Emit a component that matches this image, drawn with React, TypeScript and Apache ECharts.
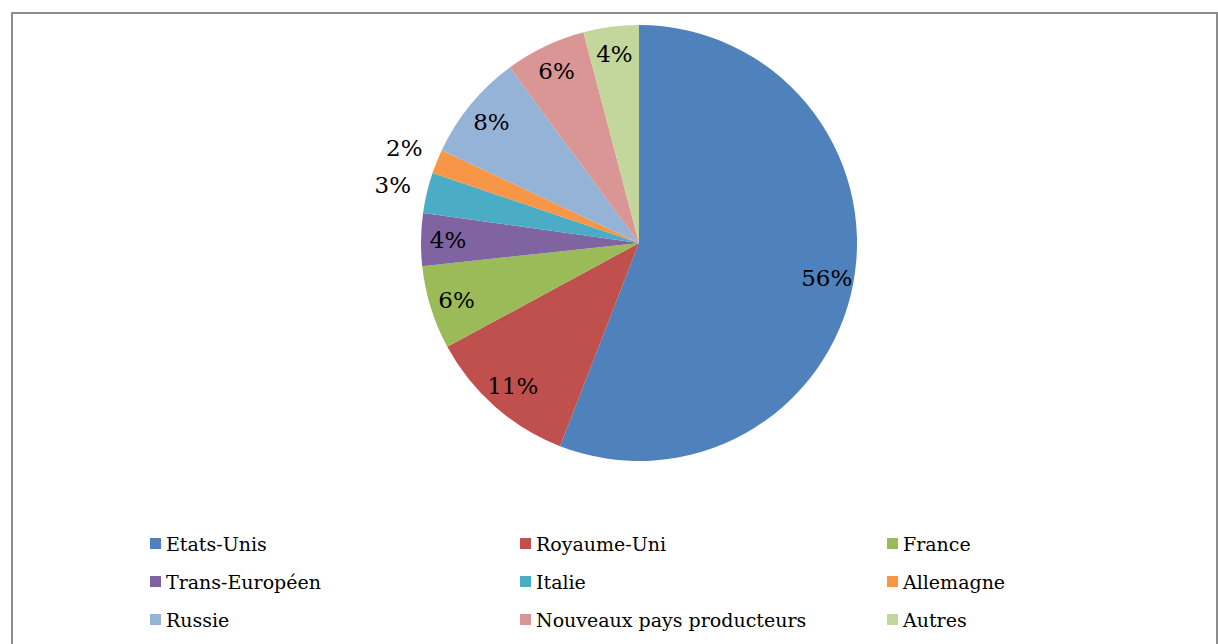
import React, { useEffect, useRef } from "react";
import * as echarts from "echarts";

const categories = [
  "Etats-Unis",
  "Royaume-Uni",
  "France",
  "Trans-Européen",
  "Italie",
  "Allemagne",
  "Russie",
  "Nouveaux pays producteurs",
  "Autres",
];
const shares = [55.9, 11.2, 6.2, 3.9, 3.0, 1.8, 7.9, 6.0, 4.1];
const colors = [
  "#4F81BD",
  "#C0504D",
  "#9BBB59",
  "#8064A2",
  "#4BACC6",
  "#F79646",
  "#95B3D7",
  "#D99694",
  "#C3D69B",
];
const outsideLabels = ["Italie", "Allemagne"];
const legendCol1 = ["Etats-Unis", "Trans-Européen", "Russie"];
const legendCol2 = ["Royaume-Uni", "Italie", "Nouveaux pays producteurs"];
const legendCol3 = ["France", "Allemagne", "Autres"];

const FONT = "DejaVu Serif";

export default function App() {
  const ref = useRef<HTMLDivElement>(null);
  useEffect(() => {
    if (!ref.current) return;
    const chart = echarts.init(ref.current, null, { renderer: "svg" });
    const center = [639, 243];
    const R = 218;
    const mainData = categories.map((name, i) => ({
      name,
      value: shares[i],
      itemStyle: { color: colors[i] },
    }));
    const labelData = (inside: boolean) =>
      categories.map((name, i) => {
        const isOut = outsideLabels.includes(name);
        return {
          name,
          value: shares[i],
          itemStyle: { color: "rgba(0,0,0,0)" },
          label: { show: inside ? !isOut : isOut },
        };
      });
    const labelSeriesBase = {
      type: "pie" as const,
      center,
      startAngle: 90,
      clockwise: true,
      silent: true,
      avoidLabelOverlap: false,
      labelLine: { show: false },
      emphasis: { disabled: true },
      label: {
        position: "inside",
        color: "#000",
        fontFamily: FONT,
        fontSize: 23,
        formatter: (p: any) => Math.round(p.value) + "%",
      },
    };
    const legendBase = {
      orient: "vertical" as const,
      top: 533,
      padding: 0,
      icon: "rect",
      itemWidth: 11,
      itemHeight: 11,
      itemGap: 17,
      selectedMode: false,
      textStyle: { fontFamily: FONT, fontSize: 19, color: "#000", lineHeight: 21 },
    };
    chart.setOption({
      animation: false,
      backgroundColor: "#fff",
      legend: [
        { ...legendBase, left: 150, data: legendCol1 },
        { ...legendBase, left: 520, data: legendCol2 },
        { ...legendBase, left: 887, data: legendCol3 },
      ],
      graphic: [
        {
          type: "rect",
          shape: { x: 12, y: 13, width: 1205, height: 700 },
          style: { fill: "none", stroke: "#8c8c8c", lineWidth: 2 },
          silent: true,
        },
      ],
      series: [
        {
          type: "pie",
          name: "main",
          center,
          radius: [0, R],
          startAngle: 90,
          clockwise: true,
          label: { show: false },
          labelLine: { show: false },
          emphasis: { disabled: true },
          data: mainData,
        },
        { ...labelSeriesBase, name: "labelsIn", radius: [0, 376], data: labelData(true) },
        { ...labelSeriesBase, name: "labelsOut", radius: [0, 500], data: labelData(false) },
      ],
    });
    return () => chart.dispose();
  }, []);
  return (
    <div
      ref={ref}
      style={{ position: "fixed", left: 0, top: 0, width: 1218, height: 644 }}
    />
  );
}
